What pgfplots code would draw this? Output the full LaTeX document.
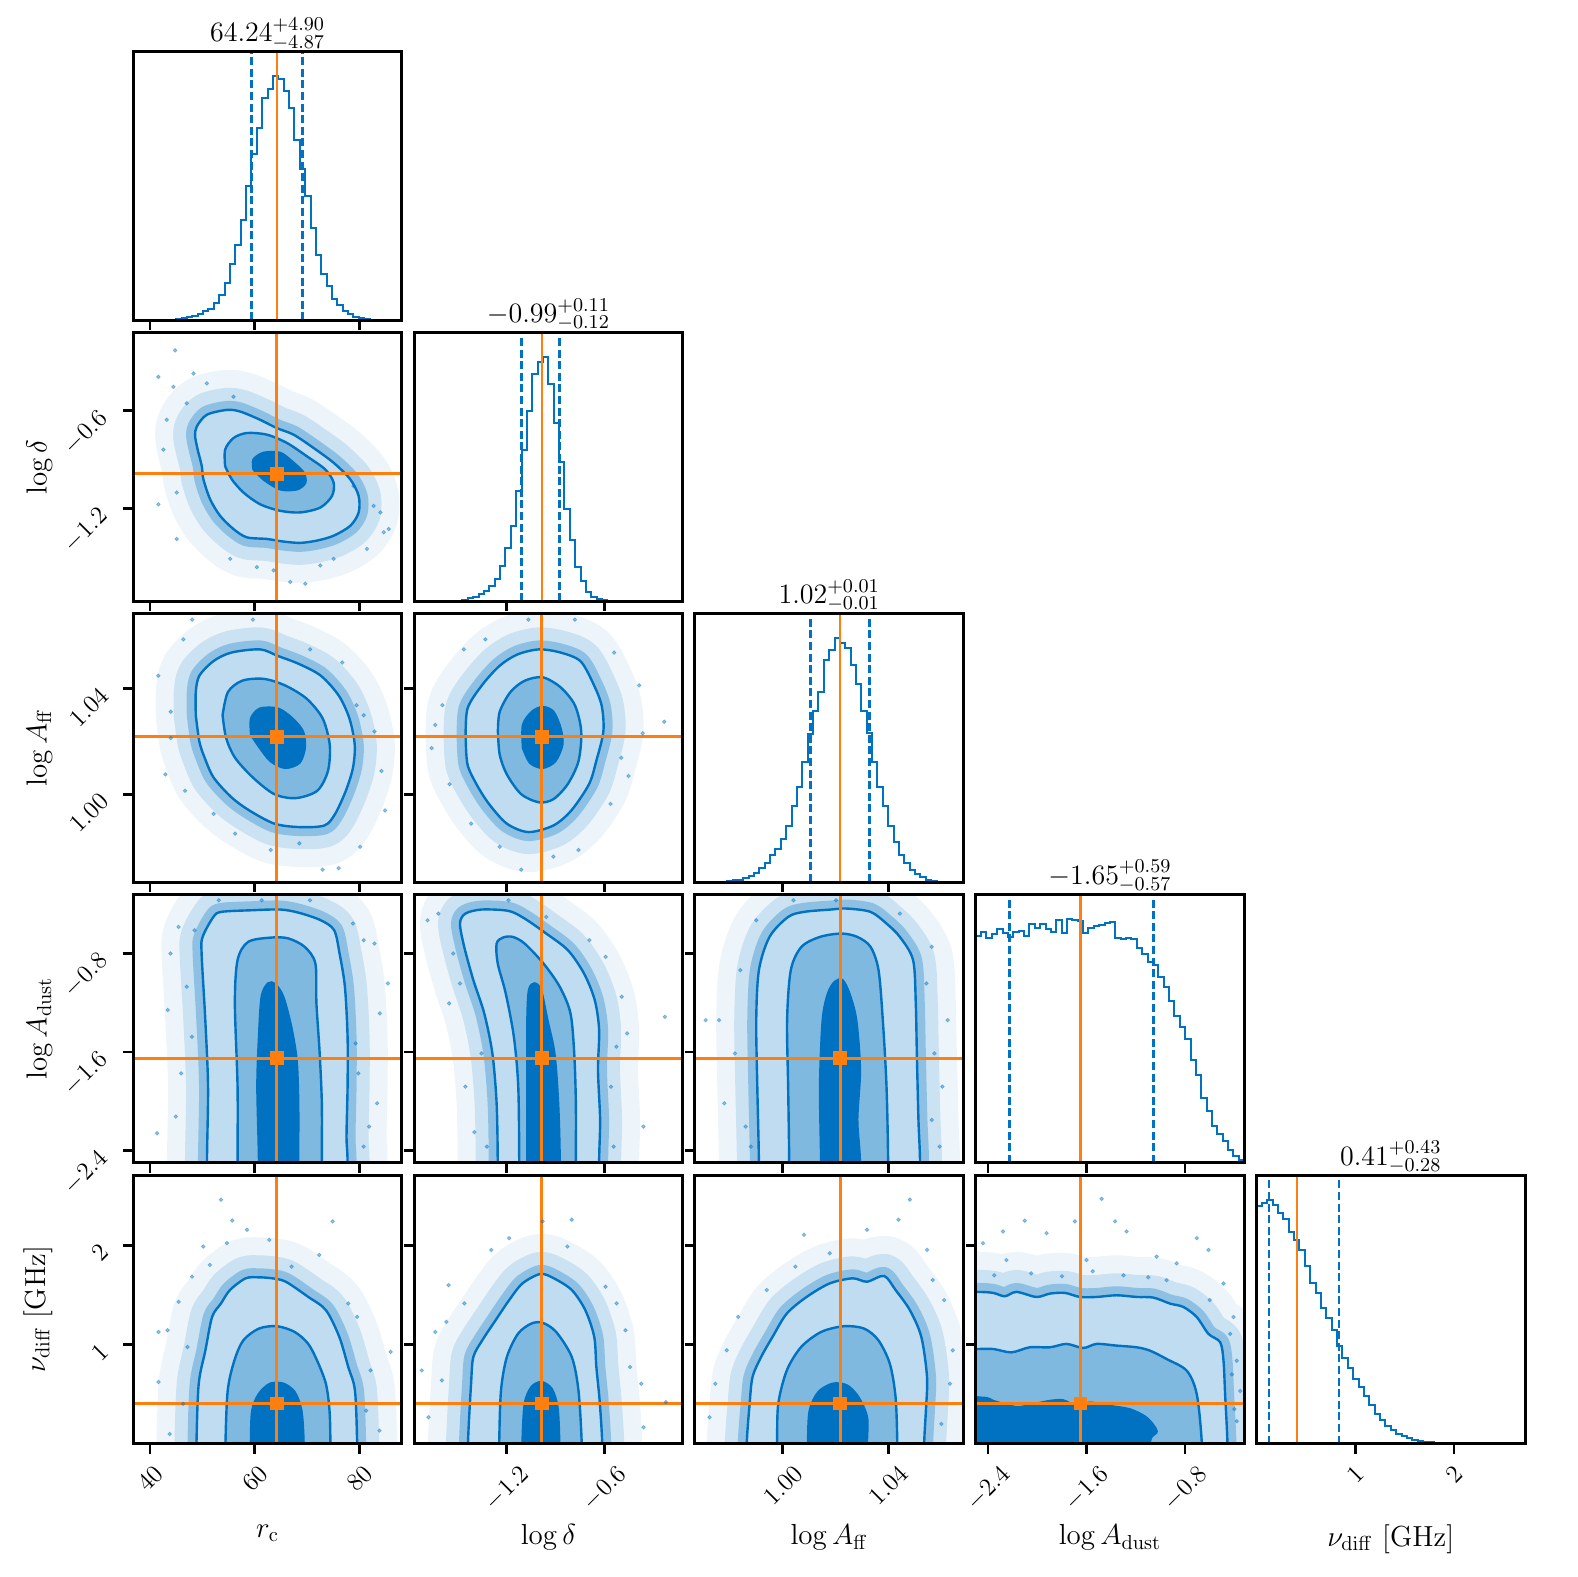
\RequirePackage{fix-cm}
\documentclass[border=0pt]{standalone}
\usepackage{graphicx}
\usepackage{pgfplots}
\usepackage{pgfplotstable}
\pgfplotsset{compat=1.18}

\definecolor{cb}{RGB}{0,114,193}
\definecolor{cl}{RGB}{191,220,240}
\definecolor{cm}{RGB}{128,185,224}
\definecolor{co}{RGB}{255,127,14}

\newcommand\tkf{\fontsize{12.5}{15}\selectfont}
\newcommand\lbf{\fontsize{14.5}{17}\selectfont}
\newcommand\ttf{\fontsize{14}{17}\selectfont}
\newcommand\rt[1]{\rotatebox{45}{\tkf$#1$}}

% ---------- 1D histograms (bin left edge, height; peak = 1) ----------
\pgfplotstableread[row sep=\\]{x y\\
36.80 0\\ 45.01 0.004\\ 46.03 0.010\\ 47.06 0.014\\ 48.09 0.019\\ 49.11 0.027\\ 50.14 0.037\\
51.16 0.046\\ 52.19 0.071\\ 53.22 0.105\\ 54.24 0.155\\ 55.27 0.23\\ 56.29 0.31\\ 57.32 0.41\\
58.35 0.55\\ 59.37 0.68\\ 60.40 0.79\\ 61.42 0.91\\ 62.45 0.95\\ 63.48 1.00\\ 64.50 0.99\\
65.53 0.94\\ 66.55 0.87\\ 67.58 0.74\\ 68.61 0.62\\ 69.63 0.51\\ 70.66 0.38\\ 71.68 0.27\\
72.71 0.19\\ 73.74 0.14\\ 74.76 0.09\\ 75.79 0.064\\ 76.81 0.037\\ 77.84 0.026\\ 78.87 0.016\\
79.89 0.010\\ 80.92 0.005\\ 81.94 0.002\\ 82.97 0\\ 88.10 0\\
}\hA
\pgfplotstableread[row sep=\\]{x y\\
-1.770 0\\ -1.506 0.003\\ -1.473 0.005\\ -1.440 0.012\\ -1.407 0.019\\ -1.374 0.030\\ -1.341 0.044\\
-1.308 0.064\\ -1.275 0.092\\ -1.242 0.146\\ -1.209 0.217\\ -1.176 0.31\\ -1.143 0.45\\ -1.110 0.62\\
-1.077 0.78\\ -1.044 0.93\\ -1.011 0.98\\ -0.978 1.00\\ -0.945 0.89\\ -0.912 0.73\\ -0.879 0.57\\
-0.846 0.38\\ -0.813 0.25\\ -0.780 0.14\\ -0.747 0.085\\ -0.714 0.04\\ -0.681 0.019\\ -0.648 0.010\\
-0.615 0.004\\ -0.582 0\\ -0.120 0\\
}\hB
\pgfplotstableread[row sep=\\]{x y\\
0.9666 0\\ 0.97680 0.002\\ 0.97884 0.004\\ 0.98088 0.007\\ 0.98292 0.010\\ 0.98496 0.016\\
0.98700 0.026\\ 0.98904 0.037\\ 0.99108 0.057\\ 0.99312 0.078\\ 0.99516 0.110\\ 0.99720 0.135\\
0.99924 0.176\\ 1.00128 0.23\\ 1.00332 0.31\\ 1.00536 0.39\\ 1.00740 0.49\\ 1.00944 0.605\\
1.01148 0.70\\ 1.01352 0.78\\ 1.01556 0.91\\ 1.01760 0.95\\ 1.01964 1.00\\ 1.02168 0.98\\
1.02372 0.96\\ 1.02576 0.89\\ 1.02780 0.81\\ 1.02984 0.70\\ 1.03188 0.61\\ 1.03392 0.49\\
1.03596 0.39\\ 1.03800 0.31\\ 1.04004 0.23\\ 1.04208 0.166\\ 1.04412 0.11\\ 1.04616 0.078\\
1.04820 0.050\\ 1.05024 0.034\\ 1.05228 0.020\\ 1.05432 0.010\\ 1.05636 0.004\\ 1.05840 0\\ 1.0686 0\\
}\hC
\pgfplotstableread[row sep=\\]{x y\\
-2.5000 0.930\\ -2.4564 0.946\\ -2.4128 0.922\\ -2.3692 0.936\\ -2.3256 0.957\\ -2.2820 0.943\\
-2.2384 0.924\\ -2.1948 0.947\\ -2.1512 0.951\\ -2.1076 0.929\\ -2.0640 0.977\\ -2.0204 0.961\\
-1.9768 0.977\\ -1.9332 0.957\\ -1.8896 0.947\\ -1.8460 0.995\\ -1.8024 0.943\\ -1.7588 0.999\\
-1.7152 0.995\\ -1.6716 0.990\\ -1.6280 0.940\\ -1.5844 0.961\\ -1.5408 0.970\\ -1.4972 0.974\\
-1.4536 0.981\\ -1.4100 0.988\\ -1.3664 0.920\\ -1.3228 0.916\\ -1.2792 0.920\\ -1.2356 0.916\\
-1.1920 0.879\\ -1.1484 0.855\\ -1.1048 0.824\\ -1.0612 0.810\\ -1.0176 0.760\\ -0.9740 0.720\\
-0.9304 0.663\\ -0.8868 0.600\\ -0.8432 0.558\\ -0.7996 0.506\\ -0.7560 0.421\\ -0.7124 0.360\\
-0.6688 0.264\\ -0.6252 0.213\\ -0.5816 0.150\\ -0.5380 0.120\\ -0.4944 0.090\\ -0.4508 0.052\\
-0.4072 0.027\\ -0.3636 0.011\\ -0.3200 0.011\\
}\hD
\pgfplotstableread[row sep=\\]{x y\\
0.0000 0.974\\ 0.0544 0.988\\ 0.1088 1.000\\ 0.1632 0.978\\ 0.2176 0.946\\ 0.2720 0.919\\
0.3264 0.867\\ 0.3808 0.834\\ 0.4352 0.795\\ 0.4896 0.729\\ 0.5440 0.657\\ 0.5984 0.619\\
0.6528 0.554\\ 0.7072 0.513\\ 0.7616 0.465\\ 0.8160 0.399\\ 0.8704 0.352\\ 0.9248 0.311\\
0.9792 0.265\\ 1.0336 0.231\\ 1.0880 0.197\\ 1.1424 0.160\\ 1.1968 0.121\\ 1.2512 0.096\\
1.3056 0.073\\ 1.3600 0.055\\ 1.4144 0.041\\ 1.4688 0.032\\ 1.5232 0.022\\ 1.5776 0.015\\
1.6320 0.011\\ 1.6864 0.008\\ 1.7408 0.006\\ 1.7952 0.004\\ 1.8496 0.003\\ 1.9040 0.002\\
1.9584 0.001\\ 2.0128 0\\ 2.7200 0\\
}\hE

% ---------- 2D panels: outer / middle / inner contour, sparse samples ----------
% A: r_c vs log delta
\pgfplotstableread[row sep=\\]{x y\\
49.25 -0.858\\ 48.61 -0.757\\ 48.93 -0.696\\ 50.84 -0.624\\ 54.67 -0.594\\ 57.22 -0.604\\
61.05 -0.655\\ 64.23 -0.706\\ 67.42 -0.746\\ 71.25 -0.828\\ 75.08 -0.919\\ 78.27 -1.021\\
79.86 -1.123\\ 79.86 -1.224\\ 78.27 -1.306\\ 75.08 -1.367\\ 71.89 -1.397\\ 68.70 -1.411\\
65.51 -1.403\\ 62.32 -1.387\\ 58.49 -1.377\\ 55.94 -1.326\\ 53.39 -1.245\\ 51.48 -1.143\\
50.20 -1.021\\ 49.89 -0.940\\ 49.25 -0.858\\
}\cAo
\pgfplotstableread[row sep=\\]{x y\\
54.35 -0.940\\ 54.35 -0.838\\ 55.94 -0.767\\ 58.49 -0.736\\ 62.32 -0.746\\ 66.15 -0.797\\
69.97 -0.879\\ 73.48 -0.960\\ 75.08 -1.041\\ 74.76 -1.123\\ 72.53 -1.194\\ 68.70 -1.224\\
64.87 -1.214\\ 61.05 -1.174\\ 57.86 -1.102\\ 55.63 -1.021\\ 54.35 -0.940\\
}\cAm
\pgfplotstableread[row sep=\\]{x y\\
59.77 -0.960\\ 59.77 -0.899\\ 61.68 -0.858\\ 64.87 -0.858\\ 67.42 -0.919\\ 69.34 -0.980\\
69.66 -1.041\\ 68.06 -1.082\\ 64.87 -1.082\\ 61.68 -1.021\\ 59.77 -0.960\\
}\cAi
\pgfplotstableread[row sep=\\]{x y\\
44.78 -0.228\\ 41.59 -0.391\\ 48.29 -0.370\\ 44.46 -0.452\\ 41.59 -1.174\\ 45.10 -1.387\\
85.60 -1.326\\ 84.01 -1.224\\ 69.66 -1.662\\ 66.79 -1.651\\ 60.41 -1.560\\ 81.45 -1.448\\
47.02 -0.553\\ 43.19 -0.655\\ 78.90 -1.062\\ 82.73 -1.184\\ 55.31 -1.509\\ 72.53 -1.550\\
50.84 -0.431\\ 55.94 -0.513\\ 42.55 -0.838\\ 45.10 -1.102\\ 75.08 -1.509\\ 63.60 -1.580\\
84.64 -1.346\\
}\cAp
% B: r_c vs log A_ff
\pgfplotstableread[row sep=\\]{x y\\
48.74 1.0300\\ 48.74 1.0388\\ 49.42 1.0450\\ 52.15 1.0506\\ 55.56 1.0538\\ 61.02 1.0550\\
64.44 1.0525\\ 68.53 1.0494\\ 72.63 1.0450\\ 76.04 1.0375\\ 78.09 1.0288\\ 79.11 1.0188\\
78.77 1.0100\\ 77.41 1.0013\\ 75.36 0.9925\\ 73.31 0.9881\\ 68.53 0.9875\\ 63.75 0.9888\\
58.98 0.9938\\ 55.56 0.9988\\ 52.15 1.0063\\ 50.44 1.0138\\ 49.42 1.0200\\ 48.74 1.0300\\
}\cBo
\pgfplotstableread[row sep=\\]{x y\\
53.86 1.0300\\ 54.88 1.0388\\ 57.61 1.0431\\ 61.71 1.0438\\ 65.80 1.0413\\ 69.90 1.0363\\
72.97 1.0288\\ 74.33 1.0188\\ 73.99 1.0088\\ 71.95 1.0013\\ 67.85 0.9985\\ 63.75 1.0000\\
59.66 1.0063\\ 56.25 1.0138\\ 54.54 1.0213\\ 53.86 1.0300\\
}\cBm
\pgfplotstableread[row sep=\\]{x y\\
59.32 1.0225\\ 59.32 1.0288\\ 61.02 1.0325\\ 64.44 1.0325\\ 67.17 1.0288\\ 69.22 1.0238\\
69.56 1.0175\\ 68.53 1.0119\\ 65.80 1.0100\\ 63.07 1.0125\\ 61.02 1.0175\\ 59.32 1.0225\\
}\cBi
\pgfplotstableread[row sep=\\]{x y\\
48.05 1.0663\\ 46.35 1.0588\\ 41.57 1.0450\\ 42.94 1.0075\\ 52.15 0.9925\\ 63.07 0.9788\\
72.97 0.9713\\ 76.04 0.9719\\ 80.14 0.9800\\ 84.23 1.0088\\ 82.87 1.0238\\ 76.72 1.0500\\
70.58 1.0550\\ 59.66 1.0663\\ 43.96 1.0313\\ 46.69 1.0013\\ 56.25 0.9850\\ 68.53 0.9813\\
84.91 0.9938\\ 79.45 1.0338\\ 43.96 1.0213\\ 80.82 1.0300\\
}\cBp
% C: log delta vs log A_ff
\pgfplotstableread[row sep=\\]{x y\\
-1.453 1.0213\\ -1.442 1.0325\\ -1.354 1.0413\\ -1.244 1.0488\\ -1.134 1.0531\\ -1.002 1.0550\\
-0.870 1.0538\\ -0.749 1.0506\\ -0.673 1.0425\\ -0.618 1.0338\\ -0.607 1.0238\\ -0.651 1.0125\\
-0.695 1.0038\\ -0.804 0.9938\\ -0.914 0.9881\\ -1.068 0.9856\\ -1.200 0.9888\\ -1.310 0.9963\\
-1.387 1.0038\\ -1.442 1.0113\\ -1.453 1.0213\\
}\cCo
\pgfplotstableread[row sep=\\]{x y\\
-1.255 1.0238\\ -1.244 1.0313\\ -1.178 1.0388\\ -1.090 1.0431\\ -0.980 1.0444\\ -0.870 1.0406\\
-0.782 1.0338\\ -0.743 1.0238\\ -0.760 1.0125\\ -0.826 1.0038\\ -0.914 0.9981\\ -1.002 0.9969\\
-1.112 1.0000\\ -1.200 1.0075\\ -1.244 1.0150\\ -1.255 1.0238\\
}\cCm
\pgfplotstableread[row sep=\\]{x y\\
-1.101 1.0175\\ -1.101 1.0263\\ -1.046 1.0313\\ -0.980 1.0331\\ -0.914 1.0313\\ -0.870 1.0250\\
-0.859 1.0188\\ -0.903 1.0125\\ -0.980 1.0100\\ -1.057 1.0119\\ -1.101 1.0175\\
}\cCi
\pgfplotstableread[row sep=\\]{x y\\
-0.387 1.0413\\ -0.233 1.0275\\ -0.365 1.0231\\ -0.453 1.0069\\ -0.760 0.9788\\ -1.244 0.9800\\
-1.640 1.0263\\ -1.662 1.0175\\ -1.596 1.0338\\ -1.464 1.0550\\ -1.332 1.0588\\ -0.782 1.0663\\
-1.068 1.0663\\ -0.541 1.0538\\ -1.552 1.0038\\ -1.420 0.9888\\ -0.914 0.9763\\ -1.112 0.9713\\
-0.563 0.9963\\ -0.497 1.0138\\
}\cCp
% D: r_c vs log A_dust
\pgfplotstableread[row sep=\\]{x y\\
50.87 -3.2\\ 50.87 -2.5\\ 51.08 -1.881\\ 50.56 -1.341\\ 49.85 -0.800\\ 50.05 -0.665\\
52.10 -0.503\\ 53.64 -0.462\\ 59.28 -0.449\\ 64.92 -0.443\\ 68.51 -0.470\\ 72.62 -0.530\\
75.18 -0.611\\ 76.21 -0.800\\ 77.23 -1.070\\ 77.74 -1.476\\ 77.74 -1.881\\ 77.54 -2.286\\
77.74 -2.5\\ 77.74 -3.2\\
}\cDo
\pgfplotstableread[row sep=\\]{x y\\
56.72 -3.2\\ 56.72 -2.5\\ 56.72 -1.881\\ 56.21 -1.205\\ 56.72 -0.854\\ 58.77 -0.705\\
63.38 -0.670\\ 66.46 -0.678\\ 69.54 -0.746\\ 71.59 -0.881\\ 71.79 -1.205\\ 72.41 -1.611\\
72.82 -2.016\\ 72.82 -2.5\\ 72.82 -3.2\\
}\cDm
\pgfplotstableread[row sep=\\]{x y\\
60.82 -3.2\\ 60.82 -2.5\\ 60.51 -1.881\\ 60.82 -1.476\\ 61.33 -1.151\\ 62.56 -1.043\\
63.90 -1.049\\ 65.44 -1.151\\ 66.97 -1.395\\ 68.00 -1.665\\ 68.31 -2.016\\ 68.31 -2.5\\ 68.31 -3.2\\
}\cDi
\pgfplotstableread[row sep=\\]{x y\\
41.33 -2.259\\ 43.38 -1.259\\ 43.90 -0.800\\ 45.44 -0.584\\ 45.95 -1.773\\ 44.92 -2.124\\
47.00 -1.070\\ 48.00 -1.476\\ 80.82 -0.692\\ 82.87 -0.719\\ 83.90 -1.286\\ 85.44 -1.043\\
83.38 -2.016\\ 81.85 -2.205\\ 79.79 -1.773\\ 80.82 -2.368\\ 79.28 -1.530\\ 53.13 -0.368\\
61.33 -0.368\\ 70.56 -0.368\\ 78.77 -0.557\\ 48.51 -0.611\\
}\cDp
% E: log delta vs log A_dust
\pgfplotstableread[row sep=\\]{x y\\
-1.256 -3.2\\ -1.256 -2.5\\ -1.263 -2.016\\ -1.289 -1.611\\ -1.339 -1.286\\ -1.406 -1.016\\
-1.462 -0.746\\ -1.488 -0.557\\ -1.455 -0.476\\ -1.356 -0.443\\ -1.190 -0.454\\ -1.091 -0.516\\
-0.958 -0.638\\ -0.825 -0.773\\ -0.726 -0.962\\ -0.660 -1.178\\ -0.633 -1.422\\ -0.640 -1.746\\
-0.627 -2.151\\ -0.633 -2.5\\ -0.633 -3.2\\
}\cEo
\pgfplotstableread[row sep=\\]{x y\\
-1.124 -3.2\\ -1.124 -2.5\\ -1.130 -1.881\\ -1.157 -1.476\\ -1.207 -1.124\\ -1.256 -0.881\\
-1.263 -0.719\\ -1.223 -0.670\\ -1.164 -0.665\\ -1.091 -0.719\\ -0.975 -0.881\\ -0.875 -1.070\\
-0.809 -1.286\\ -0.786 -1.611\\ -0.776 -2.016\\ -0.776 -2.5\\ -0.776 -3.2\\
}\cEm
\pgfplotstableread[row sep=\\]{x y\\
-1.074 -3.2\\ -1.074 -2.5\\ -1.074 -1.881\\ -1.074 -1.341\\ -1.064 -1.097\\ -1.031 -1.043\\
-0.991 -1.097\\ -0.951 -1.341\\ -0.908 -1.611\\ -0.885 -2.016\\ -0.875 -2.5\\ -0.875 -3.2\\
}\cEi
\pgfplotstableread[row sep=\\]{x y\\
-1.687 -0.530\\ -1.621 -0.476\\ -1.555 -1.205\\ -1.455 -1.881\\ -1.400 -2.250\\ -0.229 -1.314\\
-0.361 -2.205\\ -0.461 -1.449\\ -0.560 -1.881\\ -0.527 -1.557\\ -0.593 -0.827\\ -0.693 -0.692\\
-0.958 -0.503\\ -1.190 -0.368\\ -1.530 -0.800\\ -1.488 -1.043\\ -1.356 -1.611\\ -1.323 -2.368\\
-0.544 -2.368\\ -0.494 -1.151\\
}\cEp
% F: log A_ff vs log A_dust
\pgfplotstableread[row sep=\\]{x y\\
0.99091 -3.2\\ 0.99091 -2.5\\ 0.99030 -1.881\\ 0.98990 -1.341\\ 0.99091 -0.935\\ 0.99495 -0.665\\
1.00202 -0.503\\ 1.00808 -0.462\\ 1.01818 -0.443\\ 1.02424 -0.435\\ 1.03333 -0.462\\ 1.03939 -0.557\\
1.04444 -0.665\\ 1.04949 -0.854\\ 1.05051 -1.205\\ 1.05091 -1.611\\ 1.05152 -2.151\\ 1.05212 -2.5\\
1.05212 -3.2\\
}\cFo
\pgfplotstableread[row sep=\\]{x y\\
1.00242 -3.2\\ 1.00242 -2.5\\ 1.00202 -1.881\\ 1.00162 -1.341\\ 1.00303 -0.935\\ 1.00707 -0.746\\
1.01414 -0.665\\ 1.02222 -0.638\\ 1.02828 -0.665\\ 1.03333 -0.746\\ 1.03636 -0.935\\ 1.03798 -1.341\\
1.03939 -1.881\\ 1.04000 -2.5\\ 1.04000 -3.2\\
}\cFm
\pgfplotstableread[row sep=\\]{x y\\
1.01455 -3.2\\ 1.01455 -2.5\\ 1.01414 -1.881\\ 1.01515 -1.341\\ 1.01717 -1.124\\ 1.01980 -1.030\\
1.02263 -1.016\\ 1.02525 -1.124\\ 1.02788 -1.341\\ 1.02929 -1.746\\ 1.02828 -2.151\\ 1.02929 -2.5\\
1.02929 -3.2\\
}\cFi
\pgfplotstableread[row sep=\\]{x y\\
0.97576 -1.341\\ 0.97071 -1.341\\ 0.97778 -2.016\\ 0.98182 -1.611\\ 0.98384 -0.935\\ 0.98586 -2.205\\
0.98990 -0.530\\ 1.00404 -0.368\\ 1.02020 -0.368\\ 1.04444 -0.476\\ 1.05657 -0.746\\ 1.06263 -1.341\\
1.06061 -1.881\\ 1.05657 -2.151\\ 1.05758 -1.611\\ 1.05455 -1.043\\ 0.98788 -2.368\\ 1.05960 -2.368\\
}\cFp
% G: r_c vs nu_diff
\pgfplotstableread[row sep=\\]{x y\\
48.87 -0.5\\ 48.87 0.0\\ 49.30 0.605\\ 50.58 0.943\\ 51.86 1.280\\ 53.56 1.416\\ 55.27 1.551\\
58.25 1.669\\ 60.81 1.679\\ 63.37 1.669\\ 65.93 1.635\\ 70.19 1.483\\ 73.60 1.348\\ 76.16 1.078\\
77.87 0.774\\ 79.15 0.537\\ 79.57 0.0\\ 79.57 -0.5\\
}\cGo
\pgfplotstableread[row sep=\\]{x y\\
54.41 -0.5\\ 54.41 0.0\\ 54.84 0.537\\ 56.12 0.841\\ 57.83 1.044\\ 60.81 1.162\\ 64.22 1.186\\
67.63 1.128\\ 70.19 1.010\\ 71.90 0.841\\ 73.60 0.605\\ 74.29 0.334\\ 74.46 0.0\\ 74.46 -0.5\\
}\cGm
\pgfplotstableread[row sep=\\]{x y\\
59.27 -0.5\\ 59.27 0.0\\ 59.53 0.334\\ 60.81 0.503\\ 62.94 0.605\\ 65.50 0.605\\ 67.63 0.520\\
68.91 0.334\\ 69.34 0.0\\ 69.34 -0.5\\
}\cGi
\pgfplotstableread[row sep=\\]{x y\\
53.56 2.463\\ 55.69 2.253\\ 74.88 2.243\\ 50.15 1.990\\ 51.43 1.804\\ 72.32 1.905\\ 41.62 1.128\\
43.33 1.145\\ 45.46 1.432\\ 41.62 0.622\\ 47.16 0.976\\ 83.84 0.132\\ 85.97 0.926\\ 82.13 0.740\\
79.57 1.280\\ 77.87 1.416\\ 46.31 0.402\\ 43.75 0.098\\ 81.28 0.334\\ 58.52 2.159\\ 62.78 2.057\\
54.68 2.024\\ 67.05 1.787\\ 48.02 1.686\\
}\cGp
% H: log delta vs nu_diff
\pgfplotstableread[row sep=\\]{x y\\
-1.439 -0.5\\ -1.439 0.0\\ -1.420 0.605\\ -1.406 0.875\\ -1.351 1.044\\ -1.269 1.247\\
-1.186 1.449\\ -1.104 1.618\\ -0.994 1.713\\ -0.911 1.669\\ -0.801 1.551\\ -0.718 1.348\\
-0.663 1.078\\ -0.650 0.774\\ -0.630 0.436\\ -0.614 0.0\\ -0.614 -0.5\\
}\cHo
\pgfplotstableread[row sep=\\]{x y\\
-1.247 -0.5\\ -1.247 0.0\\ -1.236 0.537\\ -1.200 0.875\\ -1.131 1.111\\ -1.049 1.213\\
-0.980 1.220\\ -0.897 1.128\\ -0.801 0.875\\ -0.760 0.537\\ -0.740 0.0\\ -0.740 -0.5\\
}\cHm
\pgfplotstableread[row sep=\\]{x y\\
-1.104 -0.5\\ -1.104 0.0\\ -1.090 0.402\\ -1.049 0.571\\ -0.988 0.622\\ -0.925 0.554\\
-0.889 0.368\\ -0.878 0.0\\ -0.878 -0.5\\
}\cHi
\pgfplotstableread[row sep=\\]{x y\\
-0.980 2.243\\ -0.801 2.260\\ -1.186 2.074\\ -1.558 1.601\\ -1.572 1.230\\ -1.640 1.128\\
-1.723 0.740\\ -1.599 0.639\\ -0.526 1.416\\ -0.443 0.774\\ -0.374 0.605\\ -0.360 0.166\\
-0.223 0.419\\ -0.594 1.584\\ -1.296 1.956\\ -0.828 1.990\\ -1.461 1.416\\ -1.682 0.267\\
-0.471 1.145\\
}\cHp
% I: log A_ff vs nu_diff
\pgfplotstableread[row sep=\\]{x y\\
0.98630 -0.5\\ 0.98630 0.0\\ 0.98739 0.402\\ 0.98848 0.672\\ 0.99174 0.875\\ 0.99609 1.078\\
1.00152 1.314\\ 1.00913 1.483\\ 1.01783 1.618\\ 1.02652 1.669\\ 1.03196 1.635\\ 1.03848 1.693\\
1.04283 1.551\\ 1.04826 1.348\\ 1.05261 1.078\\ 1.05478 0.672\\ 1.05435 0.334\\ 1.05370 0.0\\
1.05370 -0.5\\
}\cIo
\pgfplotstableread[row sep=\\]{x y\\
0.99783 -0.5\\ 0.99783 0.0\\ 0.99826 0.402\\ 1.00152 0.740\\ 1.00696 0.976\\ 1.01457 1.128\\
1.02326 1.186\\ 1.03087 1.162\\ 1.03630 1.044\\ 1.04065 0.807\\ 1.04283 0.470\\ 1.04348 0.0\\
1.04348 -0.5\\
}\cIm
\pgfplotstableread[row sep=\\]{x y\\
1.00957 -0.5\\ 1.00957 0.0\\ 1.01022 0.334\\ 1.01348 0.520\\ 1.01891 0.605\\ 1.02435 0.588\\
1.02870 0.470\\ 1.03196 0.267\\ 1.03196 0.0\\ 1.03196 -0.5\\
}\cIi
\pgfplotstableread[row sep=\\]{x y\\
1.04826 2.463\\ 1.04391 2.260\\ 1.00804 2.108\\ 1.03196 2.159\\ 0.98304 1.280\\ 0.97870 0.943\\
0.97435 0.605\\ 0.97217 0.267\\ 0.99391 1.551\\ 1.05478 1.956\\ 1.06130 1.449\\ 1.06457 0.943\\
1.06348 0.605\\ 1.06022 0.199\\ 1.05696 1.652\\ 1.01783 1.922\\ 1.00478 1.787\\
}\cIp
% J: log A_dust vs nu_diff
\pgfplotstableread[row sep=\\]{x y\\
-3.0 -0.5\\ -3.0 1.532\\ -2.5 1.532\\ -2.359 1.522\\ -2.264 1.488\\ -2.169 1.532\\ -2.007 1.481\\
-1.898 1.515\\ -1.776 1.522\\ -1.654 1.481\\ -1.519 1.481\\ -1.356 1.498\\ -1.193 1.481\\
-1.058 1.475\\ -0.922 1.414\\ -0.814 1.380\\ -0.705 1.278\\ -0.610 1.108\\ -0.515 1.024\\
-0.488 0.837\\ -0.475 0.498\\ -0.456 0.0\\ -0.456 -0.5\\
}\cJo
\pgfplotstableread[row sep=\\]{x y\\
-3.0 -0.5\\ -3.0 0.956\\ -2.5 0.956\\ -2.359 0.956\\ -2.210 0.922\\ -2.061 0.973\\ -1.898 0.973\\
-1.763 1.007\\ -1.627 0.966\\ -1.519 1.007\\ -1.356 0.990\\ -1.193 0.973\\ -1.085 0.939\\
-0.949 0.854\\ -0.786 0.736\\ -0.705 0.498\\ -0.664 0.0\\ -0.664 -0.5\\
}\cJm
\pgfplotstableread[row sep=\\]{x y\\
-3.0 -0.5\\ -3.0 0.464\\ -2.454 0.464\\ -2.359 0.431\\ -2.169 0.369\\ -2.034 0.397\\ -1.898 0.431\\
-1.790 0.437\\ -1.681 0.380\\ -1.573 0.414\\ -1.410 0.380\\ -1.247 0.346\\ -1.112 0.261\\
-1.031 0.125\\ -1.085 0.024\\ -1.112 -0.5\\
}\cJi
\pgfplotstableread[row sep=\\]{x y\\
-2.102 2.251\\ -1.478 2.471\\ -1.369 2.244\\ -2.278 2.142\\ -1.925 2.125\\ -1.275 2.142\\
-0.705 2.075\\ -0.610 1.956\\ -1.695 2.244\\ -0.407 1.278\\ -0.380 0.837\\ -0.353 0.532\\
-0.434 1.108\\ -2.441 2.024\\ -1.031 1.888\\ -0.868 1.820\\ -0.488 1.617\\ -0.380 0.227\\
-1.600 1.854\\ -2.251 1.854\\ -2.350 1.700\\ -2.050 1.720\\ -1.800 1.690\\ -1.550 1.740\\
-1.300 1.700\\ -1.100 1.680\\ -0.950 1.650\\ -0.600 1.450\\ -0.420 0.700\\ -0.400 0.350\\
}\cJp

\pgfplotsset{
  cp/.style={width=134.25pt, height=134.25pt, scale only axis, anchor=north west,
    axis on top, axis line style={line width=1.5pt},
    every tick/.style={black, line width=1.4pt}, major tick length=5pt, tick align=outside,
    xtick pos=bottom, ytick pos=left, xticklabels={}, yticklabels={},
    xticklabel style={anchor=north, inner sep=0pt, yshift=-5pt},
    yticklabel style={anchor=north east, inner sep=0pt, xshift=-6.5pt, yshift=1.5pt},
    every axis x label/.style={at={(axis description cs:0.5,-0.3)}, anchor=north, inner sep=0pt, font=\lbf},
    every axis y label/.style={at={(axis description cs:-0.3,0.5)}, rotate=90, anchor=south, inner sep=0pt, font=\lbf},
    every axis title/.style={at={(axis description cs:0.5,1)}, anchor=base, yshift=5pt, font=\ttf}},
  hist/.style={ymin=0, ymax=1.1, ytick=\empty},
  p0x/.style={xmin=36.8, xmax=88.1, xtick={40,60,80}},
  p0xl/.style={xticklabels={\rt{40},\rt{60},\rt{80}}, xlabel={$r_\mathrm{c}$}},
  p1x/.style={xmin=-1.77, xmax=-0.12, xtick={-1.2,-0.6}},
  p1xl/.style={xticklabels={\rt{-1.2},\rt{-0.6}}, xlabel={$\log\delta$}},
  p1y/.style={ymin=-1.77, ymax=-0.12, ytick={-1.2,-0.6}},
  p1yl/.style={yticklabels={\rt{-1.2},\rt{-0.6}}, ylabel={$\log\delta$}},
  p2x/.style={xmin=0.9666, xmax=1.0686, xtick={1.00,1.04}},
  p2xl/.style={xticklabels={\rt{1.00},\rt{1.04}}, xlabel={$\log A_\mathrm{ff}$}},
  p2y/.style={ymin=0.9666, ymax=1.0686, ytick={1.00,1.04}},
  p2yl/.style={yticklabels={\rt{1.00},\rt{1.04}}, ylabel={$\log A_\mathrm{ff}$}},
  p3x/.style={xmin=-2.5, xmax=-0.32, xtick={-2.4,-1.6,-0.8}},
  p3xl/.style={xticklabels={\rt{-2.4},\rt{-1.6},\rt{-0.8}}, xlabel={$\log A_\mathrm{dust}$}},
  p3y/.style={ymin=-2.5, ymax=-0.32, ytick={-2.4,-1.6,-0.8}},
  p3yl/.style={yticklabels={\rt{-2.4},\rt{-1.6},\rt{-0.8}}, ylabel={$\log A_\mathrm{dust}$}},
  p4x/.style={xmin=0, xmax=2.72, xtick={1,2}},
  p4xl/.style={xticklabels={\rt{1},\rt{2}}, xlabel={$\nu_\mathrm{diff}$ [GHz]}},
  p4y/.style={ymin=0, ymax=2.71, ytick={1,2}},
  p4yl/.style={yticklabels={\rt{1},\rt{2}}, ylabel={$\nu_\mathrm{diff}$ [GHz]}},
  histline/.style={const plot, draw=cb, line width=1pt, no marks},
  qline/.style={draw=cb, line width=1.3pt, dash pattern=on 4pt off 1.8pt, no marks},
  tline/.style={draw=co, line width=1.1pt, no marks},
  tline2/.style={draw=co, line width=1.5pt, no marks},
  tmark/.style={only marks, mark=square*, mark size=3.2pt, mark options={draw=co, fill=co}},
  cont/.style={draw=cb, line width=1.2pt, smooth, tension=0.5, no marks},
  halo0/.style={draw=cb, draw opacity=0.07, line width=40pt, line join=round, smooth, tension=0.5, no marks},
  halo1/.style={draw=cb, draw opacity=0.15, line width=22pt, line join=round, smooth, tension=0.5, no marks},
  halo2/.style={draw=cb, draw opacity=0.3, line width=9pt, line join=round, smooth, tension=0.5, no marks},
  pts/.style={only marks, mark=*, mark size=0.9pt, color=cb, opacity=0.4},
}

% plot a loaded table given by name: #1 options, #2 table name, #3 trailing path
\newcommand\tplot[3]{%
  \edef\tmpplot{\noexpand\addplot[#1] table {\expandafter\noexpand\csname #2\endcsname} #3;}%
  \tmpplot}

% #1 panel letter, #2 x truth, #3 y truth, #4-#5 x extent, #6-#7 y extent of the truth lines
\newcommand\panel[7]{%
  \tplot{halo0}{c#1o}{-- cycle}
  \tplot{halo1}{c#1o}{-- cycle}
  \tplot{halo2}{c#1o}{-- cycle}
  \tplot{pts}{c#1p}{}
  \tplot{cont, fill=cl}{c#1o}{-- cycle}
  \tplot{cont, fill=cm}{c#1m}{-- cycle}
  \tplot{cont, fill=cb}{c#1i}{-- cycle}
  \addplot[tline2] coordinates {(#2,#6) (#2,#7)};
  \addplot[tline2] coordinates {(#4,#3) (#5,#3)};
  \addplot[tmark] coordinates {(#2,#3)};
}

\begin{document}
\begin{tikzpicture}
\path[use as bounding box] (0,0) rectangle (788.5pt,788.5pt);

% row 0
\begin{axis}[cp, hist, p0x, at={(66.65pt,762.5pt)}, title={$64.24^{+4.90}_{-4.87}$}]
\addplot[histline] table {\hA};
\addplot[qline] coordinates {(59.37,0) (59.37,1.1)};
\addplot[qline] coordinates {(69.14,0) (69.14,1.1)};
\addplot[tline] coordinates {(64.24,0) (64.24,1.1)};
\end{axis}

% row 1
\begin{axis}[cp, p0x, p1y, p1yl, at={(66.65pt,622.1pt)}]
\panel{A}{64.24}{-0.986}{30}{95}{-1.9}{0}
\end{axis}
\begin{axis}[cp, hist, p1x, at={(207.05pt,622.1pt)}, title={$-0.99^{+0.11}_{-0.12}$}]
\addplot[histline] table {\hB};
\addplot[qline] coordinates {(-1.11,0) (-1.11,1.1)};
\addplot[qline] coordinates {(-0.876,0) (-0.876,1.1)};
\addplot[tline] coordinates {(-0.986,0) (-0.986,1.1)};
\end{axis}

% row 2
\begin{axis}[cp, p0x, p2y, p2yl, at={(66.65pt,481.7pt)}]
\panel{B}{64.24}{1.0218}{30}{95}{0.95}{1.08}
\end{axis}
\begin{axis}[cp, p1x, p2y, at={(207.05pt,481.7pt)}]
\panel{C}{-0.986}{1.0218}{-1.9}{0}{0.95}{1.08}
\end{axis}
\begin{axis}[cp, hist, p2x, at={(347.45pt,481.7pt)}, title={$1.02^{+0.01}_{-0.01}$}]
\addplot[histline] table {\hC};
\addplot[qline] coordinates {(1.0105,0) (1.0105,1.1)};
\addplot[qline] coordinates {(1.0329,0) (1.0329,1.1)};
\addplot[tline] coordinates {(1.0218,0) (1.0218,1.1)};
\end{axis}

% row 3
\begin{axis}[cp, p0x, p3y, p3yl, at={(66.65pt,341.3pt)}]
\panel{D}{64.24}{-1.65}{30}{95}{-2.7}{-0.2}
\end{axis}
\begin{axis}[cp, p1x, p3y, at={(207.05pt,341.3pt)}]
\panel{E}{-0.986}{-1.65}{-1.9}{0}{-2.7}{-0.2}
\end{axis}
\begin{axis}[cp, p2x, p3y, at={(347.45pt,341.3pt)}]
\panel{F}{1.0218}{-1.65}{0.95}{1.08}{-2.7}{-0.2}
\end{axis}
\begin{axis}[cp, hist, p3x, at={(487.85pt,341.3pt)}, title={$-1.65^{+0.59}_{-0.57}$}]
\addplot[histline] table {\hD};
\addplot[qline] coordinates {(-2.225,0) (-2.225,1.1)};
\addplot[qline] coordinates {(-1.055,0) (-1.055,1.1)};
\addplot[tline] coordinates {(-1.65,0) (-1.65,1.1)};
\end{axis}

% row 4
\begin{axis}[cp, p0x, p0xl, p4y, p4yl, at={(66.65pt,200.9pt)}]
\panel{G}{64.24}{0.407}{30}{95}{-0.2}{3}
\end{axis}
\begin{axis}[cp, p1x, p1xl, p4y, at={(207.05pt,200.9pt)}]
\panel{H}{-0.986}{0.407}{-1.9}{0}{-0.2}{3}
\end{axis}
\begin{axis}[cp, p2x, p2xl, p4y, at={(347.45pt,200.9pt)}]
\panel{I}{1.0218}{0.407}{0.95}{1.08}{-0.2}{3}
\end{axis}
\begin{axis}[cp, p3x, p3xl, p4y, at={(487.85pt,200.9pt)}]
\panel{J}{-1.65}{0.407}{-2.7}{-0.2}{-0.2}{3}
\end{axis}
\begin{axis}[cp, hist, p4x, p4xl, at={(628.25pt,200.9pt)}, title={$0.41^{+0.43}_{-0.28}$}]
\addplot[histline] table {\hE};
\addplot[qline] coordinates {(0.125,0) (0.125,1.1)};
\addplot[qline] coordinates {(0.834,0) (0.834,1.1)};
\addplot[tline] coordinates {(0.407,0) (0.407,1.1)};
\end{axis}
\end{tikzpicture}
\end{document}
